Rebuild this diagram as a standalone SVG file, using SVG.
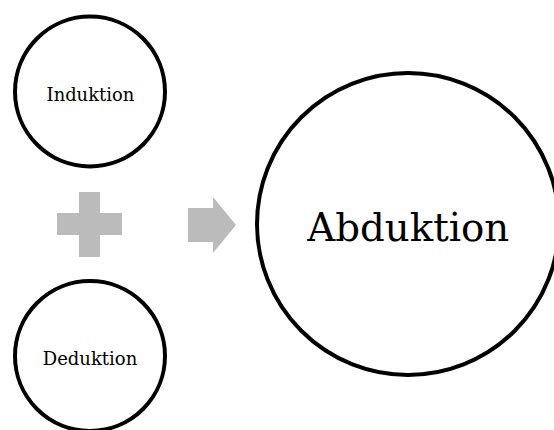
<svg xmlns="http://www.w3.org/2000/svg" width="554" height="430" viewBox="0 0 554 430">
<style>
.node circle{fill:#fff;stroke:#000;stroke-width:4}
.lbl{font-family:"DejaVu Serif","Liberation Serif",serif;fill:#000;text-anchor:middle}
.sym{fill:#BBBBBB}
</style>
<rect width="554" height="430" fill="#fff"/>
<g id="induktion" class="node">
<circle cx="90" cy="91.5" r="75"/>
<text class="lbl" x="90.4" y="100.5" font-size="17.9">Induktion</text>
</g>
<g id="deduktion" class="node">
<circle cx="90" cy="356" r="75"/>
<text class="lbl" x="90" y="365" font-size="18">Deduktion</text>
</g>
<g id="abduktion" class="node">
<circle cx="408" cy="224" r="151"/>
<text class="lbl" x="408.3" y="241" font-size="38.7">Abduktion</text>
</g>
<g id="connectors">
<path class="sym" d="M79,192 H100 V213 H122 V235 H100 V257 H79 V235 H57 V213 H79 Z"/>
<path class="sym" d="M188,208 H213 V197 L236,225 L213,253 V242 H188 Z"/>
</g>
</svg>
